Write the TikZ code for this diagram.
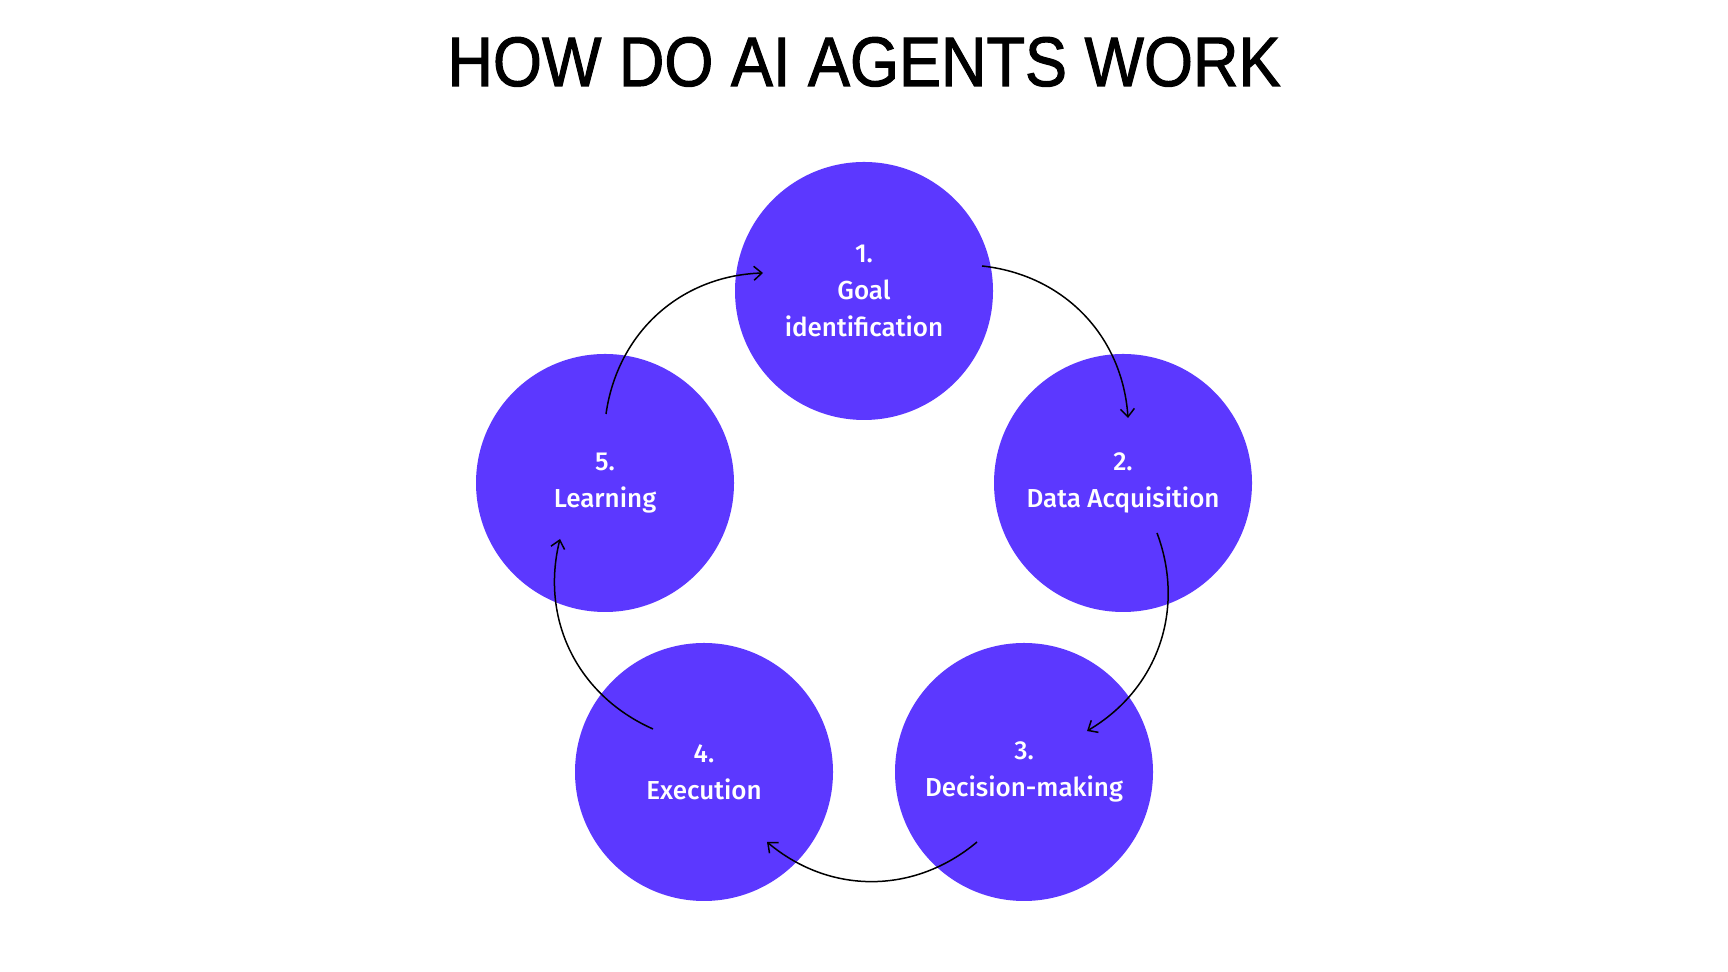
\documentclass[tikz,border=0pt]{standalone}
\usepackage{fontspec}
\setmainfont{Liberation Sans}
\newfontfamily\titlefont[FakeBold=1.6]{Liberation Sans}
\newfontfamily\stepfont{Fira Sans Medium}
\usetikzlibrary{arrows.meta}
\definecolor{agentblue}{RGB}{92,56,255}

\begin{document}
\begin{tikzpicture}[x=0.5pt,y=0.5pt,
  stepcircle/.style={circle,fill=agentblue,minimum size=129pt,inner sep=0pt,
    text=white,align=center,font=\stepfont\fontsize{13}{18.3}\selectfont},
  flowarrow/.style={line width=0.75pt,-{Straight Barb[length=4pt,width=7pt]},bend left=40}]
\fill[white] (0,0) rectangle (1728,972);
\node[anchor=base,font=\titlefont\fontsize{35}{40}\selectfont] (title) at (864,886)
  {\scalebox{0.9}[1]{HOW DO AI AGENTS WORK}};

\foreach \i/\x/\y/\txt in {1/864/681/{1.\\Goal\\identification},
    2/1123/489/{2.\\Data Acquisition}, 3/1024/200/{3.\\Decision-making},
    4/704/200/{4.\\Execution}, 5/605/489/{5.\\Learning}}
{
        \node[stepcircle] (s\i) at (\x,\y) {\txt};
}

% arrow ends sit a little inside the circles
\coordinate (p1) at ([shift={(118,25)}]s1.center);
\coordinate (q1) at ([shift={(5,65)}]s2.center);
\coordinate (p2) at ([shift={(34,-50)}]s2.center);
\coordinate (q2) at ([shift={(63,41)}]s3.center);
\coordinate (p3) at ([shift={(-47,-70)}]s3.center);
\coordinate (q3) at ([shift={(63,-70)}]s4.center);
\coordinate (p4) at ([shift={(-51,43)}]s4.center);
\coordinate (q4) at ([shift={(-45,-56)}]s5.center);
\coordinate (p5) at ([shift={(1,69)}]s5.center);
\coordinate (q5) at ([shift={(-101,18)}]s1.center);

\foreach \k in {1,...,5}
{
        \draw[flowarrow] (p\k) to (q\k);
}
\end{tikzpicture}
\end{document}
